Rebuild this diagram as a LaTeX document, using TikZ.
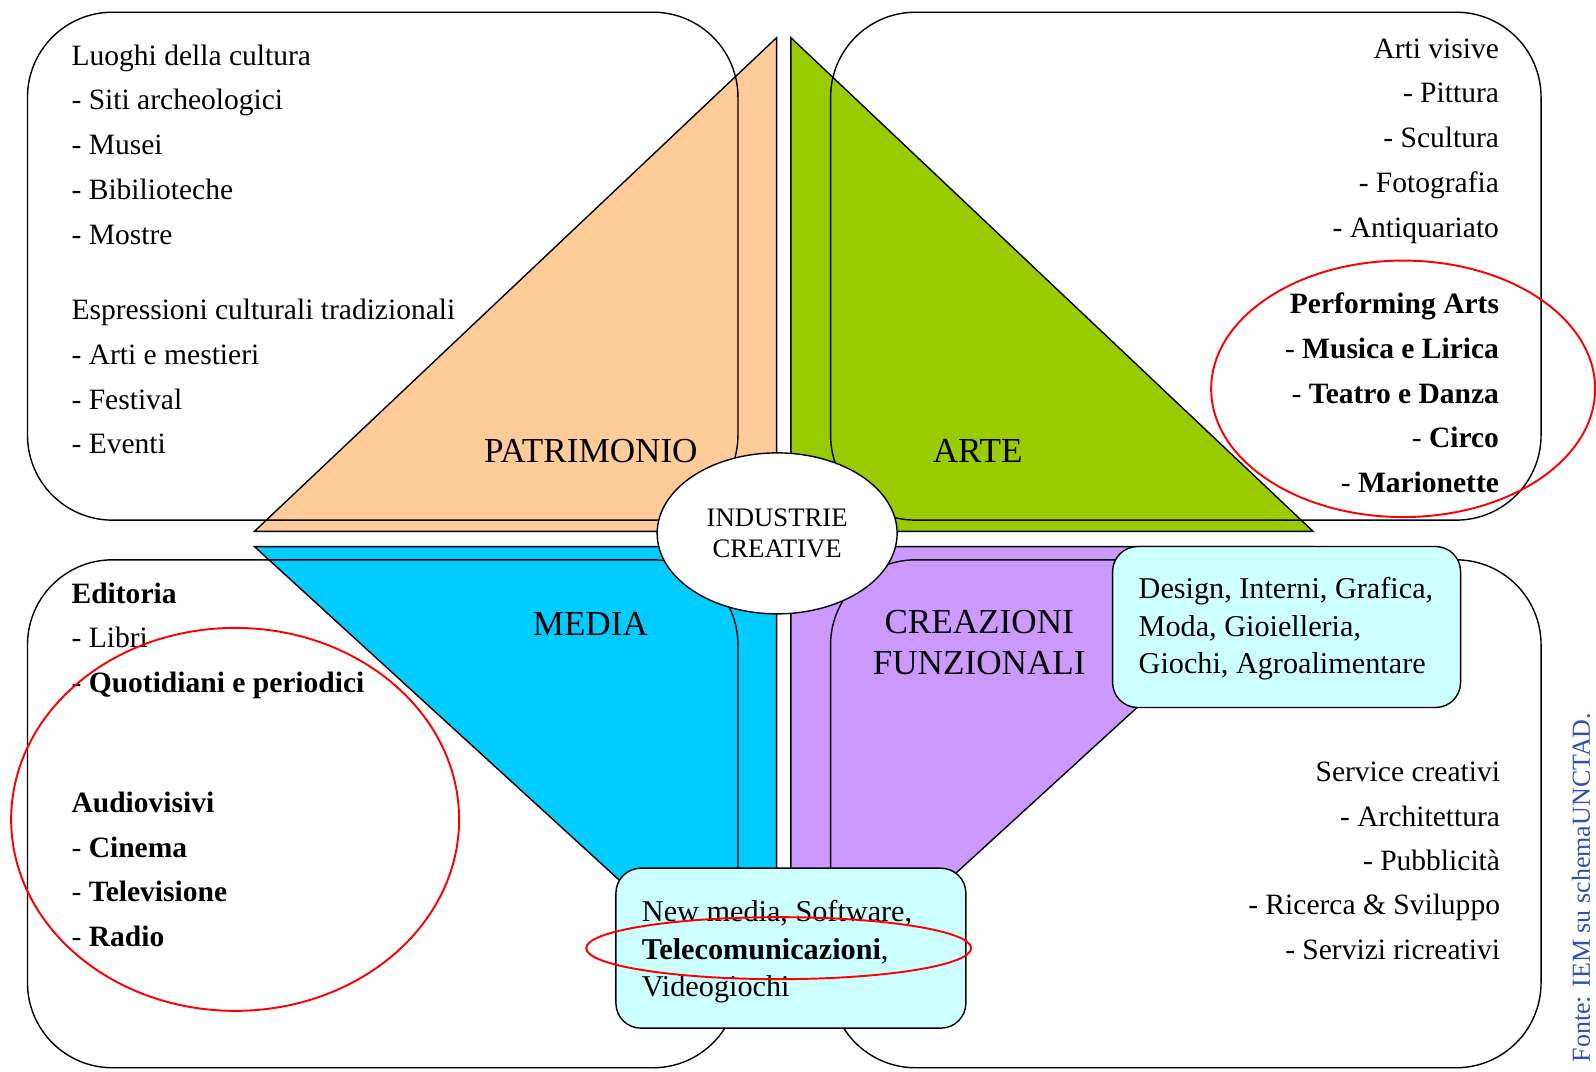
\documentclass[tikz,border=0pt]{standalone}
\usepackage{fontspec}
\setmainfont{Liberation Serif}
\usetikzlibrary{shapes.geometric}

\definecolor{patrimonio}{HTML}{FFCC99}
\definecolor{arte}{HTML}{99CC00}
\definecolor{media}{HTML}{00CCFF}
\definecolor{creazioni}{HTML}{CC99FF}
\definecolor{cyanbox}{HTML}{CCFFFF}
\definecolor{fonteblue}{RGB}{46,80,180}

\tikzset{
  sector/.style={draw=black, line width=0.8pt},
  frame/.style={draw=black, line width=0.8pt, rounded corners=17mm},
  item/.style={inner sep=0pt, font=\fontsize{16.8}{25.5}\selectfont},
  sectorlabel/.style={inner sep=0pt, font=\fontsize{20}{23.5}\selectfont},
  subbox/.style={draw=black, line width=0.8pt, fill=cyanbox, rounded corners=5mm,
    inner sep=0pt, align=left, font=\fontsize{17.2}{21.3}\selectfont},
  redmark/.style={draw=red, line width=1.1pt},
}

\begin{document}
\begin{tikzpicture}[x=0.2036mm, y=-0.2036mm]
  \useasboundingbox (0,0) rectangle (1568,1053);

  % the four sectors
  \draw[sector, fill=patrimonio] (763,37) -- (250,522) -- (763,522) -- cycle;
  \draw[sector, fill=arte] (777,37) -- (777,522) -- (1290,522) -- cycle;
  \draw[sector, fill=media] (250,537) -- (763,537) -- (763,1006) -- cycle;
  \draw[sector, fill=creazioni] (777,537) -- (1290,537) -- (777,1006) -- cycle;

  % rounded frames
  \draw[frame] (27,12) rectangle (725,511);
  \draw[frame] (816,12) rectangle (1514,511);
  \draw[frame] (27,550) rectangle (725,1049);
  \draw[frame] (816,550) rectangle (1514,1049);

  \node[sectorlabel, anchor=base] (patrimonio) at (580.5,454) {PATRIMONIO};
  \node[sectorlabel, anchor=base] (arte) at (960.5,454) {ARTE};
  \node[sectorlabel, anchor=base] (media) at (580,624) {MEDIA};
  \node[sectorlabel, anchor=base] (creazioni) at (962,622) {CREAZIONI};
  \node[sectorlabel, anchor=base] (funzionali) at (962,663) {FUNZIONALI};

  \node[ellipse, draw=black, line width=0.8pt, fill=white, inner sep=0pt,
    minimum width=48mm, minimum height=32.2mm, align=center,
    font=\fontsize{15.2}{17.9}\selectfont] (industrie) at (763.5,524) {INDUSTRIE\\CREATIVE};

  \node[subbox, minimum width=69.6mm, minimum height=32.2mm] (design) at (1264,616) {};
  \node[subbox, draw=none, fill=none, anchor=base west] (designtxt) at (1118,662)
    {Design, Interni, Grafica,\\Moda, Gioielleria,\\Giochi, Agroalimentare};
  \node[subbox, minimum width=70mm, minimum height=32mm] (newmedia) at (777,931.5) {};
  \node[subbox, draw=none, fill=none, anchor=base west] (newmediatxt) at (630,979)
    {New media, Software,\\\textbf{Telecomunicazioni},\\Videogiochi};

  % lists
  \foreach \t [count=\i from 0] in {Luoghi della cultura, - Siti archeologici, - Musei, - Bibilioteche, - Mostre}
    \node[item, anchor=base west] (luoghi\i) at (70,64+44*\i) {\t};
  \foreach \t [count=\i from 0] in {Espressioni culturali tradizionali, - Arti e mestieri, - Festival, - Eventi}
    \node[item, anchor=base west] (espr\i) at (70,314+44*\i) {\t};
  \foreach \t [count=\i from 0] in {Arti visive, - Pittura, - Scultura, - Fotografia, - Antiquariato}
    \node[item, anchor=base east] (visive\i) at (1473,57+44*\i) {\t};
  \foreach \t [count=\i from 0] in {\textbf{Performing Arts}, - \textbf{Musica e Lirica}, - \textbf{Teatro e Danza}, - \textbf{Circo}, - \textbf{Marionette}}
    \node[item, anchor=base east] (perf\i) at (1473,308+44*\i) {\t};
  \foreach \t [count=\i from 0] in {\textbf{Editoria}, - Libri, - \textbf{Quotidiani e periodici}}
    \node[item, anchor=base west] (editoria\i) at (70,593+43.6*\i) {\t};
  \foreach \t [count=\i from 0] in {\textbf{Audiovisivi}, - \textbf{Cinema}, - \textbf{Televisione}, - \textbf{Radio}}
    \node[item, anchor=base west] (audio\i) at (70,798.6+43.6*\i) {\t};
  \foreach \t [count=\i from 0] in {Service creativi, - Architettura, - Pubblicità, - Ricerca \& Sviluppo, - Servizi ricreativi}
    \node[item, anchor=base east] (service\i) at (1474,768+43.6*\i) {\t};

  % red highlights
  \draw[redmark] (1378.5,382) ellipse [x radius=38.4mm, y radius=25.65mm];
  \draw[redmark] (231,805) ellipse [x radius=44.8mm, y radius=38.3mm];
  \draw[redmark] (765,931.5) ellipse [x radius=38.5mm, y radius=6.2mm];

  \node[rotate=90, anchor=base, inner sep=0pt, text=fonteblue,
    font=\fontsize{14.8}{17}\selectfont] (fonte) at (1562,872) {Fonte: IEM su schemaUNCTAD.};
\end{tikzpicture}
\end{document}
